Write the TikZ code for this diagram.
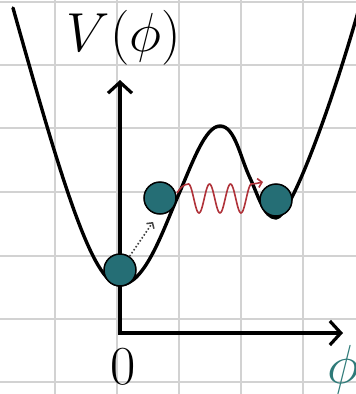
\documentclass[tikz,border=0pt]{standalone}
\usetikzlibrary{arrows.meta}
\definecolor{gridgray}{HTML}{D2D2D2}
\definecolor{ballteal}{HTML}{256E75}
\definecolor{phiteal}{HTML}{2E7A78}
\definecolor{wavered}{HTML}{B0333A}
\definecolor{dotgray}{HTML}{444444}
\newcommand{\bigtxt}[1]{\scalebox{2.65}{\huge #1}}
\tikzset{
  gridline/.style={gridgray, line width=1.1pt},
  potential/.style={black, line width=3.4pt, line cap=round, line join=round},
  axis/.style={black, line width=3.2pt, line join=miter, {Straight Barb[length=11pt,width=24pt]}-{Straight Barb[length=11pt,width=24pt]}},
  ball/.style={circle, draw=black, line width=1.5pt, fill=ballteal, minimum size=32pt, inner sep=0pt},
  hop/.style={dotgray, line width=1.6pt, dotted, -{Straight Barb[length=4pt,width=9pt,line width=1.5pt]}},
  wave/.style={wavered, line width=1.6pt, -{Straight Barb[length=4pt,width=9pt]}},
  biglabel/.style={inner sep=0pt}
}
\begin{document}
\begin{tikzpicture}[x=1pt,y=-1pt]
\useasboundingbox (0,0) rectangle (356,394);
\clip (0,0) rectangle (356,394);
% grid
\foreach \gx in {55,117,179,241,303} \draw[gridline] (\gx,0) -- (\gx,394);
\foreach \gy in {2,65,128,192,256,319,382} \draw[gridline] (0,\gy) -- (356,\gy);
% axes
\coordinate (O) at (120,333);
\coordinate (ytip) at (120,80);
\coordinate (xtip) at (343,333);
\draw[axis] (ytip) -- (O) -- (xtip);
% potential curve
\draw[potential] (13,8) .. controls (60,175) and (92,285) .. (120,285)
  .. controls (145,285) and (163,230) .. (178,196)
  .. controls (192,164) and (205,126) .. (220,126)
  .. controls (235,126) and (240,157) .. (250,178)
  .. controls (258,195) and (264,218) .. (276,218)
  .. controls (290,218) and (331,107) .. (358,12);
% balls
\node[ball] (b1) at (120,270) {};
\node[ball] (b2) at (160,198) {};
\node[ball] (b3) at (276,200) {};
% dotted hop
\coordinate (hopend) at (153,222);
\draw[hop] (b1.55) -- (hopend);
% red wave
\coordinate (wstart) at (177,193);
\coordinate (wend) at (263,182);
\draw[wave] (wstart) .. controls (180,188) and (184,184) .. (188.5,184)
  -- plot[domain=0:3, samples=90, smooth] ({188.5+21*\x},{198.5-14.5*cos(360*\x)})
  .. controls (255,184) and (258,183) .. (wend);
% labels
\node[biglabel] (vlab) at (124,37.5) {\bigtxt{$V(\phi)$}};
\node[biglabel] (zero) at (123,367) {\bigtxt{$0$}};
\node[biglabel, text=phiteal, anchor=west] (philab) at (327,370) {\bigtxt{$\phi$}};
\end{tikzpicture}
\end{document}
